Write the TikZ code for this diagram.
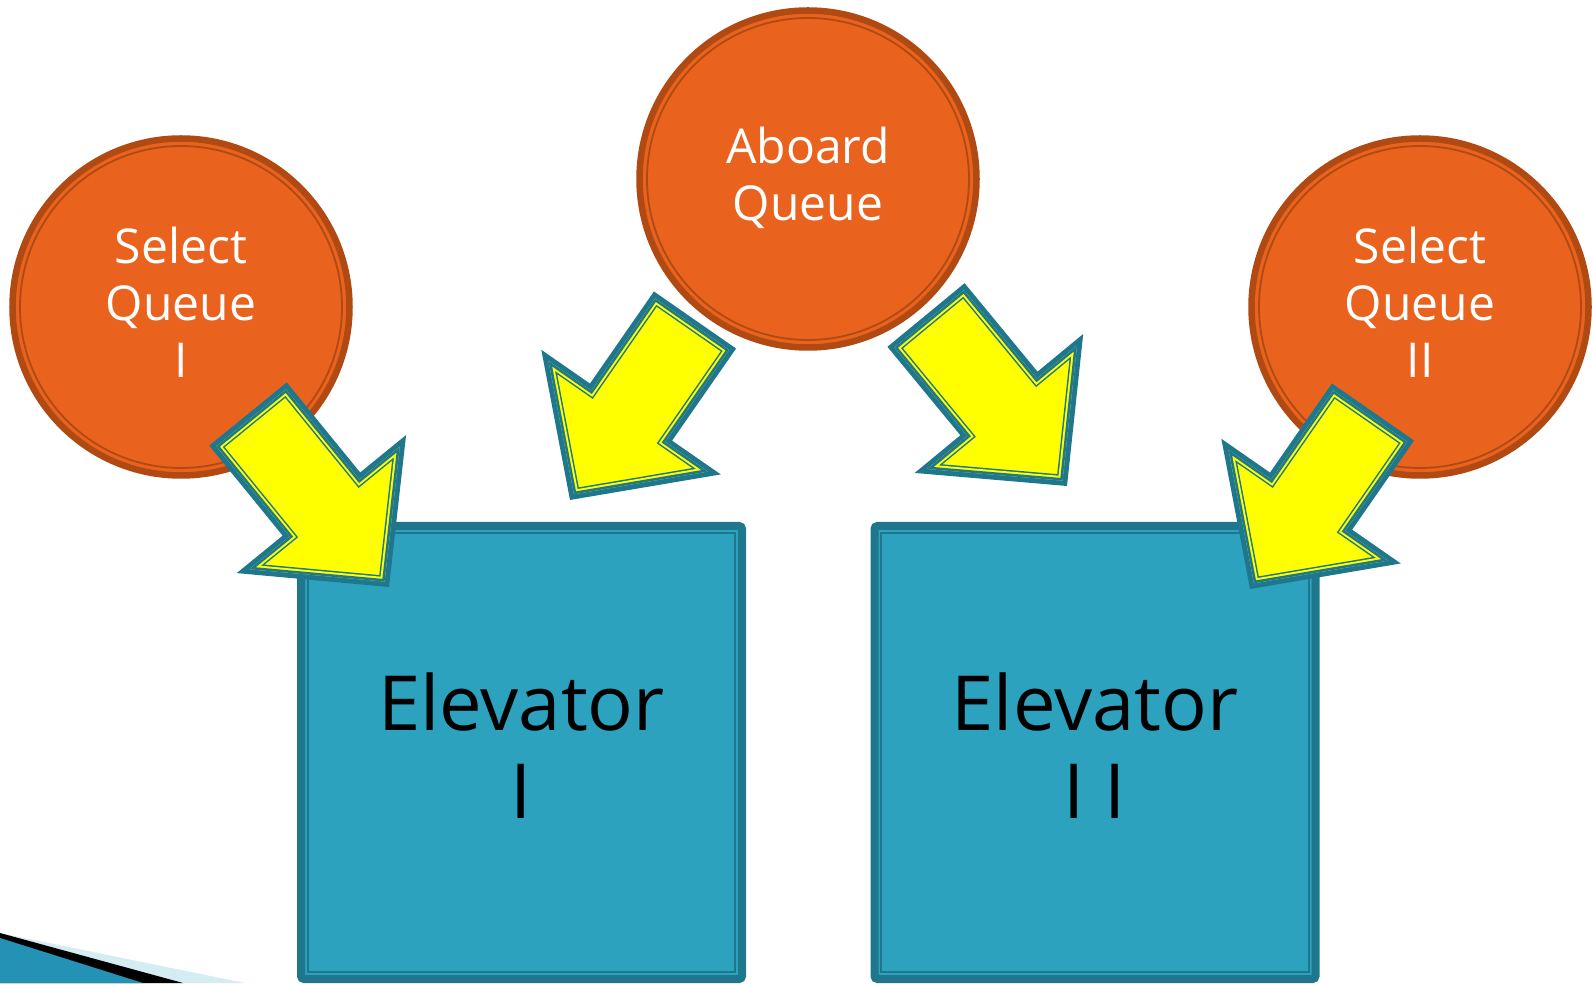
\documentclass[tikz,border=0pt]{standalone}
\usepackage{fontspec}
\setmainfont{Open Sans}
\usepackage{pgf,tikz}
\usetikzlibrary{calc}
\definecolor{corfundocirculo}{RGB}{233,99,30}
\definecolor{corbordacirculo}{RGB}{176,74,18}
\definecolor{corfundocaixa}{RGB}{44,162,191}
\definecolor{corbordacaixa}{RGB}{30,119,140}
\definecolor{corseta}{RGB}{255,255,0}
\definecolor{corfaixaclara}{RGB}{214,236,243}
\definecolor{corfaixa}{RGB}{36,146,180}

% seta larga: #1 cauda, #2 ponta
\newcommand{\seta}[2]{%
  \coordinate (cauda) at ($#1!5pt!#2$);
  \coordinate (ponta) at ($#2!7pt!#1$);
  \coordinate (pescoco) at ($(ponta)!95pt!(cauda)$);
  \def\contorno{($(cauda)!45pt!90:(ponta)$) -- ($(pescoco)!45pt!90:(ponta)$) -- ($(pescoco)!97pt!90:(ponta)$) -- (ponta) -- ($(pescoco)!97pt!-90:(ponta)$) -- ($(pescoco)!45pt!-90:(ponta)$) -- ($(cauda)!45pt!-90:(ponta)$) -- cycle}
  \filldraw[fill=corseta, draw=corbordacaixa, line width=10pt] \contorno;
  \begin{scope}
    \clip \contorno;
    \draw[corbordacaixa, line width=12pt] \contorno;
    \draw[corseta, line width=9pt] \contorno;
    \draw[corbordacaixa, line width=5pt] \contorno;
  \end{scope}
}

\tikzset{
  fila/.style={circle, fill=corfundocirculo, draw=corbordacirculo, line width=6.5pt,
    minimum size=337pt, inner sep=0pt, text=white, align=center,
    font=\fontsize{48}{57}\selectfont, text depth=10pt,
    path picture={\draw[corbordacirculo, line width=1.8pt]
      (path picture bounding box.center) circle (161pt);}},
  elevador/.style={rectangle, rounded corners=3pt, fill=corfundocaixa, draw=corbordacaixa,
    line width=8pt, minimum width=441pt, minimum height=453pt, inner sep=0pt,
    align=center, font=\fontsize{76}{88}\selectfont, text depth=14pt,
    path picture={\draw[corbordacaixa, line width=1.8pt, sharp corners]
      ([shift={(6.8pt,-6.8pt)}]path picture bounding box.north west) rectangle
      ([shift={(-6.8pt,6.8pt)}]path picture bounding box.south east);}}
}

\begin{document}
\begin{tikzpicture}[x=1pt,y=1pt]
  \useasboundingbox (0,0) rectangle (1593,983);

  % faixa do canto
  \fill[corfaixaclara] (0,50) -- (245,0) -- (0,0) -- cycle;
  \fill[black] (0,50) -- (183,0) -- (0,0) -- cycle;
  \fill[corfaixa] (0,45) -- (143,0) -- (0,0) -- cycle;

  \node[fila] (filaselI) at (181,676) {Select\\Queue\\I};
  \node[fila] (filaembarque) at (808,804) {Aboard\\Queue};
  \node[fila] (filaselII) at (1420,676) {Select\\Queue\\II};

  \node[elevador] (elevI) at (521.5,230.5) {Elevator\\I};
  \node[elevador] (elevII) at (1095,230.5) {Elevator\\I I};

  \seta{(248,569)}{(389,396)}
  \seta{(695,663)}{(570,483)}
  \seta{(926,668)}{(1067,497)}
  \seta{(1373,571)}{(1250,394)}
\end{tikzpicture}
\end{document}
